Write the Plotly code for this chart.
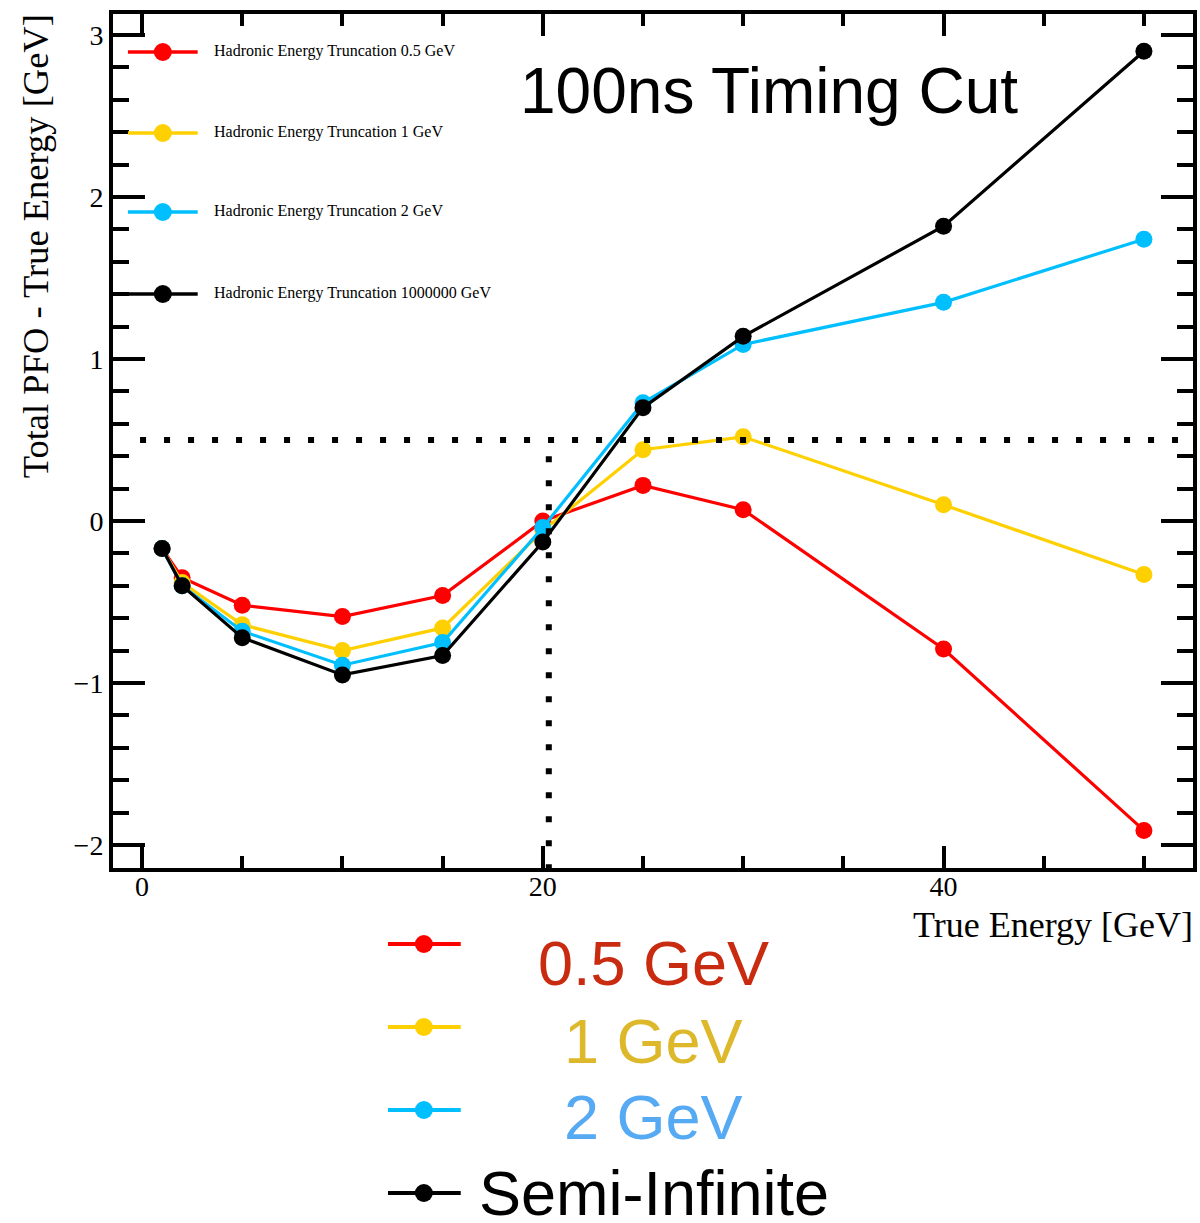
import plotly.graph_objects as go

# ---------------- data ----------------
energy = [1, 2, 5, 10, 15, 20, 25, 30, 40, 50]
trunc_05 = [-0.17, -0.35, -0.52, -0.59, -0.46, 0.00, 0.22, 0.07, -0.79, -1.91]
trunc_1 = [-0.17, -0.38, -0.64, -0.80, -0.66, -0.06, 0.44, 0.52, 0.10, -0.33]
trunc_2 = [-0.17, -0.40, -0.68, -0.89, -0.75, -0.04, 0.73, 1.09, 1.35, 1.74]
trunc_inf = [-0.17, -0.40, -0.72, -0.95, -0.83, -0.13, 0.70, 1.14, 1.82, 2.90]

series_values = [trunc_05, trunc_1, trunc_2, trunc_inf]
inner_labels = ["Hadronic Energy Truncation 0.5 GeV", "Hadronic Energy Truncation 1 GeV",
                "Hadronic Energy Truncation 2 GeV", "Hadronic Energy Truncation 1000000 GeV"]
outer_labels = ["0.5 GeV", "1 GeV", "2 GeV", "Semi-Infinite"]
line_colors = ["#FF0000", "#FFD000", "#00BFFF", "#000000"]
outer_text_colors = ["#C92B10", "#DDB82A", "#55AAF3", "#000000"]

x_ticks = [0, 20, 40]
y_ticks = [-2, -1, 0, 1, 2, 3]
threshold_y = 0.5
threshold_x = 20.3

# ---------------- layout helpers ----------------
W, H = 1200, 1223
ML, MR, MT, MB = 113, 3, 14, 355
PW = W - ML - MR
PH = H - MT - MB


def fx(px):
    return (px - ML) / PW


def fy(py):
    return (H - MB - py) / PH


fig = go.Figure()
for vals, col, name in zip(series_values, line_colors, inner_labels):
    fig.add_trace(go.Scatter(x=energy, y=vals, mode="lines+markers", name=name,
                             line=dict(color=col, width=3.2),
                             marker=dict(color=col, size=17, line=dict(width=0)),
                             showlegend=False))

shapes = []
# dotted reference lines
dot = dict(color="black", width=6, dash="6px,18px")
shapes.append(dict(type="line", xref="x", yref="y", x0=-0.1, x1=51.7,
                   y0=threshold_y, y1=threshold_y, line=dot, layer="above"))
shapes.append(dict(type="line", xref="x", yref="y", x0=threshold_x, x1=threshold_x,
                   y0=threshold_y - 0.1, y1=-2.15, line=dot, layer="above"))

annotations = []
# inner legend
inner_rows = [52, 133, 212, 294]
for row, col, lab in zip(inner_rows, line_colors, inner_labels):
    shapes.append(dict(type="line", xref="paper", yref="paper", x0=fx(128), x1=fx(198),
                       y0=fy(row), y1=fy(row), line=dict(color=col, width=3.5)))
    shapes.append(dict(type="circle", xref="paper", yref="paper", xsizemode="pixel",
                       ysizemode="pixel", xanchor=fx(163), yanchor=fy(row),
                       x0=-9, x1=9, y0=-9, y1=9, fillcolor=col, line=dict(width=0)))
    annotations.append(dict(text=lab, xref="paper", yref="paper", x=fx(212), y=fy(row - 1),
                            xanchor="left", yanchor="middle", showarrow=False,
                            font=dict(family="Liberation Serif", size=16, color="black")))

# outer legend
outer_rows = [944, 1027, 1110, 1193]
outer_text_rows = [962, 1040, 1116, 1192]
for row, trow, col, tcol, lab in zip(outer_rows, outer_text_rows, line_colors,
                                     outer_text_colors, outer_labels):
    shapes.append(dict(type="line", xref="paper", yref="paper", x0=fx(389), x1=fx(462),
                       y0=fy(row), y1=fy(row), line=dict(color=col, width=4)))
    shapes.append(dict(type="circle", xref="paper", yref="paper", xsizemode="pixel",
                       ysizemode="pixel", xanchor=fx(425), yanchor=fy(row),
                       x0=-9, x1=9, y0=-9, y1=9, fillcolor=col, line=dict(width=0)))
    annotations.append(dict(text=lab, xref="paper", yref="paper", x=fx(656), y=fy(trow + 1),
                            xanchor="center", yanchor="middle", showarrow=False,
                            font=dict(family="Liberation Sans", size=63, color=tcol)))

# title inside plot
annotations.append(dict(text="100ns Timing Cut", xref="paper", yref="paper", x=fx(771), y=fy(91),
                        xanchor="center", yanchor="middle", showarrow=False,
                        font=dict(family="Liberation Sans", size=64, color="black")))
# axis titles
annotations.append(dict(text="True Energy [GeV]", xref="paper", yref="paper", x=fx(1199), y=fy(925),
                        xanchor="right", yanchor="middle", showarrow=False,
                        font=dict(family="Liberation Serif", size=36, color="black")))
annotations.append(dict(text="Total PFO - True Energy [GeV]", xref="paper", yref="paper",
                        x=fx(35), y=fy(12), xanchor="center", yanchor="top", textangle=-90,
                        showarrow=False,
                        font=dict(family="Liberation Serif", size=36.5, color="black")))

tickfont = dict(family="Liberation Serif", size=28, color="black")
fig.update_xaxes(range=[-1.45, 52.45], showline=True, linewidth=4, linecolor="black",
                 mirror="allticks", ticks="inside", ticklen=22, tickwidth=3.5, tickcolor="black",
                 tickmode="array", tickvals=x_ticks, ticktext=[str(v) for v in x_ticks],
                 ticklabelstandoff=-10,
                 minor=dict(ticks="inside", ticklen=12, tickwidth=3.5, dtick=5, tick0=0,
                            tickcolor="black"),
                 showgrid=False, zeroline=False, tickfont=tickfont)
fig.update_yaxes(range=[-2.142, 3.13], showline=True, linewidth=4, linecolor="black",
                 mirror="allticks", ticks="inside", ticklen=32, tickwidth=3.5, tickcolor="black",
                 tickmode="array", tickvals=y_ticks,
                 ticktext=[("\u2212" + str(-v)) if v < 0 else str(v) for v in y_ticks],
                 minor=dict(ticks="inside", ticklen=16, tickwidth=3.5, dtick=0.2, tick0=0,
                            tickcolor="black"),
                 showgrid=False, zeroline=False, tickfont=tickfont)

fig.update_layout(width=W, height=H, margin=dict(l=ML, r=MR, t=MT, b=MB, pad=0),
                  plot_bgcolor="white", paper_bgcolor="white", showlegend=False,
                  shapes=shapes, annotations=annotations)

fig.write_html("out.html", config={"displayModeBar": False},
               post_script="document.body.style.margin='0px';document.body.style.overflow='hidden';")
